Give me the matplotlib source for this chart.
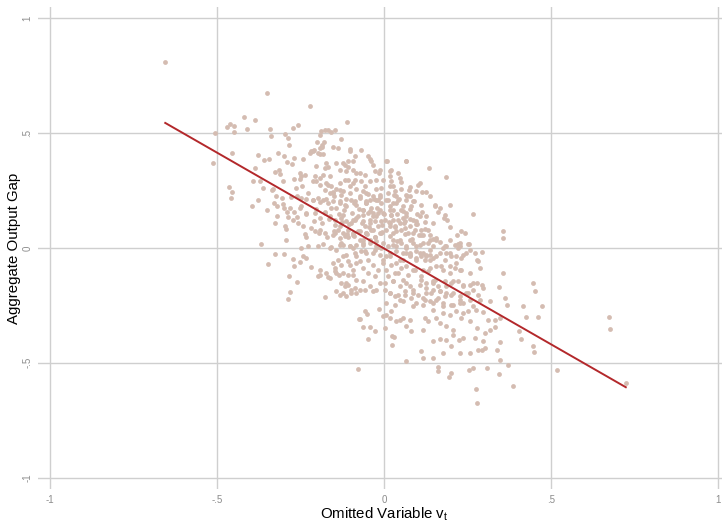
import numpy as np
import matplotlib
matplotlib.use("Agg")
import matplotlib.pyplot as plt

plt.rcParams['font.family'] = ['Liberation Sans', 'DejaVu Sans']

# omitted variable (x) and aggregate output gap (y), grouped by area of the cloud
upper_left_x = [-0.655, -0.350, -0.223, -0.110, -0.418, -0.386, -0.471, -0.460, -0.450, -0.450,
                -0.505, -0.410, -0.341, -0.338, -0.295, -0.287, -0.273, -0.258, -0.513, -0.456,
                -0.463, -0.456, -0.458, -0.396, -0.377, -0.358, -0.345, -0.385, -0.391, -0.371,
                -0.363, -0.378, -0.350, -0.368, -0.325, -0.313, -0.310, -0.317, -0.300, -0.291,
                -0.333, -0.323, -0.320, -0.325, -0.295, -0.293, -0.301, -0.293, -0.283, -0.275,
                -0.268, -0.268, -0.253, -0.303, -0.335, -0.305, -0.278, -0.261, -0.248, -0.235,
                -0.328, -0.321, -0.298, -0.281, -0.291, -0.288, -0.273, -0.261, -0.248, -0.235,
                -0.258, -0.238, -0.235, -0.346]
upper_left_y = [0.811, 0.676, 0.617, 0.547, 0.570, 0.556, 0.529, 0.540, 0.532, 0.506,
                0.503, 0.518, 0.518, 0.489, 0.496, 0.479, 0.522, 0.537, 0.370, 0.414,
                0.266, 0.242, 0.218, 0.181, 0.406, 0.384, 0.387, 0.348, 0.290, 0.293,
                0.261, 0.210, 0.164, 0.019, 0.333, 0.341, 0.322, 0.416, 0.402, 0.373,
                0.257, 0.225, 0.138, 0.111, 0.094, 0.083, 0.193, 0.036, 0.450, 0.367,
                0.392, 0.300, 0.300, 0.294, 0.251, 0.218, 0.222, 0.225, 0.220, 0.213,
                0.196, 0.184, 0.174, 0.174, 0.159, 0.135, 0.123, 0.133, 0.181, 0.149,
                0.109, 0.062, 0.050, -0.070]

left_core_x = [-0.243, -0.223, -0.213, -0.193, -0.188, -0.178, -0.168, -0.148, -0.130, -0.198,
               -0.186, -0.153, -0.138, -0.173, -0.168, -0.143, -0.118, -0.108, -0.103, -0.088,
               -0.253, -0.248, -0.238, -0.208, -0.203, -0.193, -0.168, -0.158, -0.153, -0.133,
               -0.108, -0.093, -0.083, -0.263, -0.245, -0.228, -0.213, -0.198, -0.183, -0.168,
               -0.153, -0.133, -0.113, -0.098, -0.083, -0.268, -0.253, -0.233, -0.208, -0.193,
               -0.178, -0.163, -0.148, -0.128, -0.113, -0.093, -0.078, -0.243, -0.218, -0.208,
               -0.193, -0.178, -0.153, -0.138, -0.123, -0.108, -0.093, -0.078, -0.248, -0.228,
               -0.198, -0.163, -0.133, -0.103]
left_core_y = [0.387, 0.414, 0.421, 0.493, 0.508, 0.515, 0.512, 0.515, 0.475, 0.414,
               0.442, 0.442, 0.435, 0.370, 0.355, 0.370, 0.363, 0.355, 0.421, 0.399,
               0.326, 0.312, 0.319, 0.312, 0.290, 0.305, 0.276, 0.268, 0.246, 0.254,
               0.297, 0.283, 0.326, 0.261, 0.268, 0.239, 0.210, 0.218, 0.210, 0.196,
               0.203, 0.196, 0.181, 0.210, 0.189, 0.159, 0.174, 0.152, 0.152, 0.131,
               0.152, 0.138, 0.123, 0.131, 0.116, 0.123, 0.138, 0.094, 0.087, 0.072,
               0.080, 0.065, 0.058, 0.080, 0.065, 0.050, 0.065, 0.072, 0.000, 0.007,
               0.007, 0.000, 0.014, 0.007]

top_core_x = [-0.160, -0.201, -0.181, -0.186, -0.193, -0.218, -0.211, -0.191, -0.184, -0.101,
              -0.093, -0.108, -0.123, -0.178, -0.203, 0.007, 0.067, -0.133, -0.113, -0.093,
              -0.073, -0.058, -0.028, -0.013, 0.017, 0.042, 0.047, 0.022, -0.003, -0.023,
              -0.043, -0.068, -0.088, -0.118, -0.133, -0.163, -0.183, -0.213, -0.193, -0.173,
              -0.178, -0.163, -0.143, -0.123, -0.103, -0.083, -0.063, -0.048, -0.023, -0.008,
              0.017, 0.032, 0.052, 0.077, 0.097]
top_core_y = [0.505, 0.461, 0.464, 0.447, 0.435, 0.421, 0.428, 0.411, 0.409, 0.430,
              0.380, 0.377, 0.370, 0.348, 0.358, 0.381, 0.381, 0.341, 0.334, 0.341,
              0.326, 0.319, 0.334, 0.341, 0.334, 0.326, 0.305, 0.290, 0.297, 0.297,
              0.290, 0.290, 0.297, 0.297, 0.283, 0.312, 0.319, 0.290, 0.276, 0.283,
              0.251, 0.239, 0.258, 0.247, 0.268, 0.256, 0.249, 0.236, 0.259, 0.263,
              0.271, 0.250, 0.257, 0.265, 0.248]

mid_core_x = [-0.213, -0.191, -0.173, -0.151, -0.131, -0.115, -0.091, -0.071, -0.055, -0.031,
              -0.011, 0.005, 0.029, 0.045, 0.069, 0.089, -0.203, -0.176, -0.158, -0.136,
              -0.119, -0.097, -0.076, -0.063, -0.041, -0.021, -0.001, 0.019, 0.039, 0.058,
              0.079, 0.099, -0.211, -0.186, -0.166, -0.146, -0.126, -0.106, -0.086, -0.066,
              -0.046, -0.026, -0.006, 0.014, 0.034, 0.059, 0.079, 0.099, -0.196, -0.171,
              -0.151, -0.131, -0.111, -0.091, -0.071, -0.051, -0.026, -0.006, 0.019, 0.039,
              0.064, 0.084, 0.104, -0.183, -0.158, -0.123, -0.093, -0.063, -0.018, 0.027,
              0.067]
mid_core_y = [0.207, 0.199, 0.214, 0.226, 0.203, 0.212, 0.198, 0.220, 0.205, 0.212,
              0.221, 0.207, 0.229, 0.213, 0.228, 0.206, 0.169, 0.157, 0.176, 0.150,
              0.165, 0.154, 0.169, 0.143, 0.160, 0.176, 0.150, 0.165, 0.146, 0.161,
              0.172, 0.150, 0.118, 0.107, 0.125, 0.099, 0.114, 0.103, 0.121, 0.108,
              0.092, 0.118, 0.099, 0.114, 0.092, 0.111, 0.125, 0.103, 0.067, 0.048,
              0.074, 0.042, 0.063, 0.052, 0.034, 0.061, 0.046, 0.068, 0.052, 0.031,
              0.063, 0.041, 0.056, 0.016, 0.004, 0.012, 0.002, 0.015, 0.005, 0.012,
              0.001]

upper_right_x = [-0.068, -0.048, -0.043, -0.038, -0.033, -0.015, 0.009, 0.022, 0.019, 0.052,
                 0.065, 0.135, 0.185, 0.107, 0.102, 0.115, 0.125, 0.075, 0.077, 0.067,
                 0.087, 0.057, 0.037, 0.027, 0.152, 0.167, 0.162, 0.199, 0.182, 0.190,
                 0.267, 0.115, 0.107, 0.087, 0.097, 0.197, 0.232, 0.242, 0.355, 0.357,
                 0.132, 0.117, 0.137, 0.157, 0.187, 0.177, 0.212, 0.222, 0.252, 0.227,
                 0.257, 0.294, 0.067, 0.057, 0.047, 0.027, 0.022, 0.027, 0.047, 0.067,
                 0.087, 0.107, 0.127, 0.137]
upper_right_y = [0.425, 0.399, 0.387, 0.377, 0.363, 0.326, 0.377, 0.338, 0.312, 0.286,
                 0.380, 0.347, 0.309, 0.283, 0.276, 0.246, 0.246, 0.254, 0.225, 0.210,
                 0.203, 0.181, 0.225, 0.268, 0.189, 0.174, 0.159, 0.189, 0.145, 0.123,
                 0.148, 0.159, 0.138, 0.123, 0.106, 0.090, 0.072, 0.065, 0.072, 0.044,
                 0.080, 0.058, 0.036, 0.044, 0.007, 0.000, 0.014, 0.000, 0.017, 0.022,
                 -0.007, -0.017, 0.152, 0.131, 0.109, 0.123, 0.145, 0.065, 0.036, 0.007,
                 0.022, -0.022, -0.036, -0.007]

centre_x = [-0.058, -0.053, -0.043, -0.033, -0.018, -0.013, -0.008, -0.003, 0.002, 0.007,
            -0.053, -0.063, -0.048, -0.033, -0.023, -0.043, -0.058, -0.038, -0.018, -0.008,
            -0.028, -0.053, -0.063, -0.043, -0.023, -0.003, -0.068, -0.033, -0.013, 0.012,
            0.017, 0.027, 0.037, 0.052, 0.062, 0.077, 0.092, 0.072, 0.052, 0.032,
            0.017, 0.037, 0.012, 0.017, 0.057, 0.077, 0.097, 0.117, 0.147, 0.167,
            0.197, 0.237, 0.272, 0.180, 0.122, 0.124, 0.220, 0.112, 0.147, 0.167,
            0.199, 0.255, 0.182, 0.222, 0.227]
centre_y = [0.268, 0.239, 0.210, 0.225, 0.210, 0.167, 0.196, 0.152, 0.123, 0.080,
            0.196, 0.167, 0.152, 0.152, 0.138, 0.123, 0.094, 0.080, 0.094, 0.065,
            0.050, 0.065, 0.036, 0.022, 0.007, 0.022, -0.015, -0.022, -0.029, 0.210,
            0.181, 0.167, 0.196, 0.167, 0.116, 0.094, 0.080, 0.065, 0.080, 0.094,
            0.109, 0.007, 0.007, -0.022, -0.022, -0.022, 0.007, 0.022, 0.007, -0.022,
            -0.022, -0.029, -0.022, 0.131, 0.112, 0.083, 0.055, 0.055, 0.039, 0.026,
            0.033, 0.019, 0.010, 0.019, 0.007]

# thickest part of the cloud, just above and below the origin
dense_upper_x = [-0.153, -0.128, -0.118, -0.123, -0.143, -0.103, -0.088, -0.073, -0.053, -0.063,
                 -0.038, -0.023, -0.013, -0.033, -0.018, -0.008, -0.043, -0.063, -0.083, -0.098,
                 -0.108, -0.133, -0.148, -0.118, -0.093, -0.073, -0.053, -0.033, -0.013, -0.023,
                 -0.043, -0.063, -0.083, -0.103, -0.128, -0.143, -0.113, -0.088, -0.058, -0.028,
                 -0.008, 0.012, 0.027, 0.042, 0.067, 0.082, 0.112, 0.137, 0.152, 0.022,
                 0.042, 0.067, 0.097, 0.127, 0.147, 0.017, 0.037, 0.062, 0.087, 0.112,
                 0.137, 0.027, 0.052, 0.077, 0.107, 0.132, 0.157, 0.037, 0.067, 0.097,
                 0.127]
dense_upper_y = [0.239, 0.232, 0.189, 0.145, 0.174, 0.239, 0.203, 0.225, 0.196, 0.167,
                 0.174, 0.210, 0.232, 0.138, 0.152, 0.116, 0.109, 0.116, 0.131, 0.109,
                 0.080, 0.094, 0.065, 0.051, 0.058, 0.073, 0.065, 0.080, 0.065, 0.029,
                 0.036, 0.022, 0.014, 0.007, 0.022, -0.007, -0.029, -0.022, -0.015, -0.007,
                 0.000, 0.239, 0.196, 0.210, 0.232, 0.181, 0.189, 0.225, 0.181, 0.145,
                 0.123, 0.138, 0.116, 0.138, 0.109, 0.094, 0.073, 0.087, 0.065, 0.080,
                 0.058, 0.036, 0.022, 0.036, 0.014, 0.022, 0.036, -0.015, -0.022, -0.015,
                 -0.029]

dense_lower_x = [-0.003, 0.017, 0.037, 0.057, 0.077, 0.097, 0.117, 0.137, 0.157, 0.187,
                 0.217, 0.247, 0.277, 0.007, 0.032, 0.052, 0.072, 0.092, 0.112, 0.132,
                 0.152, 0.172, 0.197, 0.227, 0.257, 0.287, 0.002, 0.027, 0.047, 0.067,
                 0.087, 0.107, 0.127, 0.147, 0.167, 0.187, 0.207, 0.237, 0.267, 0.297,
                 0.017, 0.042, 0.062, 0.082, 0.102, 0.122, 0.142, 0.162, 0.182, 0.202,
                 0.227, 0.252, 0.282, 0.007, 0.032, 0.057, 0.087, 0.117, 0.147, 0.177,
                 0.207, 0.237, 0.267]
dense_lower_y = [-0.051, -0.036, -0.065, -0.051, -0.029, -0.044, -0.022, -0.051, -0.036, -0.022,
                 -0.036, -0.022, -0.051, -0.094, -0.109, -0.087, -0.116, -0.094, -0.124, -0.102,
                 -0.138, -0.080, -0.080, -0.094, -0.109, -0.087, -0.153, -0.145, -0.167, -0.153,
                 -0.182, -0.160, -0.174, -0.153, -0.189, -0.167, -0.145, -0.160, -0.153, -0.174,
                 -0.196, -0.203, -0.189, -0.218, -0.203, -0.225, -0.196, -0.218, -0.211, -0.203,
                 -0.225, -0.196, -0.203, -0.240, -0.247, -0.232, -0.254, -0.247, -0.240, -0.254,
                 -0.247, -0.240, -0.254]

lower_left_x = [-0.285, -0.268, -0.261, -0.280, -0.287, -0.178, -0.218, -0.191, -0.173, -0.168,
                -0.198, -0.153, -0.148, -0.143, -0.135, -0.128, -0.118, -0.108, -0.098, -0.088,
                -0.133, -0.113, -0.098, -0.083, -0.123, -0.108, -0.093, -0.083, -0.103, -0.076,
                -0.078, -0.325, -0.300, -0.273, -0.253, -0.243, -0.235, -0.193, -0.163, -0.146,
                -0.138, -0.128, -0.123, -0.108, -0.093, -0.113, -0.083, -0.073, -0.123, -0.143,
                -0.058, -0.063, -0.043, -0.033, -0.023, -0.013, -0.028, -0.048, -0.063, -0.073,
                -0.083, -0.048, -0.033, -0.018, -0.003, 0.007, -0.053,
                -0.058, -0.051, -0.073, -0.063, -0.041, -0.048, -0.028, -0.015, -0.003, 0.002]
lower_left_y = [-0.124, -0.080, -0.148, -0.193, -0.221, -0.213, -0.083, -0.098, -0.109, -0.126,
                -0.124, -0.065, -0.087, -0.109, -0.116, -0.152, -0.167, -0.160, -0.182, -0.174,
                -0.203, -0.211, -0.196, -0.196, -0.109, -0.116, -0.094, -0.065, -0.073, -0.309,
                -0.527, -0.025, -0.025, -0.047, -0.063, -0.034, -0.044, -0.116, -0.131, -0.101,
                -0.051, -0.073, -0.036, -0.058, -0.116, -0.152, -0.138, -0.182, -0.196, -0.189,
                -0.182, -0.145, -0.167, -0.189, -0.182, -0.152, -0.124, -0.109, -0.087, -0.058,
                -0.036, -0.051, -0.073, -0.094, -0.065, -0.036, -0.022,
                -0.276, -0.286, -0.308, -0.346, -0.344, -0.396, -0.363, -0.264, -0.298, -0.348]

lower_mid_x = [0.007, 0.019, 0.022, 0.037, 0.047, 0.057, 0.077, 0.067, 0.082, 0.025,
               0.031, 0.025, 0.065, 0.032, 0.017, 0.002, 0.047, 0.062, 0.012, 0.027,
               0.042, 0.057, 0.077, 0.087, 0.097, 0.022, 0.047, 0.067, 0.087, 0.077,
               0.097]
lower_mid_y = [-0.290, -0.305, -0.276, -0.320, -0.312, -0.305, -0.312, -0.341, -0.363, -0.382,
               -0.388, -0.424, -0.491, -0.211, -0.196, -0.182, -0.225, -0.203, -0.124, -0.145,
               -0.109, -0.138, -0.167, -0.196, -0.239, -0.073, -0.051, -0.080, -0.094, -0.036,
               -0.051]

lower_right_x = [0.112, 0.122, 0.137, 0.147, 0.182, 0.202, 0.217, 0.232, 0.282, 0.232,
                 0.212, 0.197, 0.177, 0.157, 0.137, 0.117, 0.112, 0.127, 0.147, 0.162,
                 0.182, 0.202, 0.222, 0.237, 0.257, 0.277, 0.292, 0.267, 0.247, 0.227,
                 0.207, 0.187, 0.167, 0.147, 0.127, 0.117, 0.137, 0.157, 0.177, 0.202,
                 0.227, 0.257, 0.287, 0.317, 0.357, 0.344, 0.362, 0.369, 0.417, 0.425,
                 0.405, 0.409, 0.347, 0.332, 0.312, 0.295, 0.275, 0.252, 0.237, 0.217,
                 0.197, 0.177, 0.157, 0.147, 0.122, 0.132, 0.167, 0.187, 0.207, 0.232,
                 0.257, 0.277, 0.302, 0.317, 0.332, 0.272, 0.297, 0.302, 0.292, 0.237,
                 0.224, 0.207, 0.187, 0.167, 0.147, 0.117, 0.112, 0.117, 0.147, 0.177,
                 0.202, 0.227, 0.257, 0.282, 0.337, 0.347, 0.347, 0.370, 0.387, 0.345,
                 0.307, 0.267, 0.255, 0.202, 0.195, 0.162, 0.162, 0.275, 0.279,
                 0.447, 0.452, 0.474, 0.462, 0.447, 0.449, 0.517, 0.674, 0.677, 0.724]
lower_right_y = [-0.036, -0.051, -0.029, -0.044, -0.051, -0.036, -0.065, -0.044, -0.058, -0.094,
                 -0.087, -0.109, -0.094, -0.080, -0.087, -0.094, -0.138, -0.152, -0.145, -0.167,
                 -0.145, -0.152, -0.145, -0.167, -0.160, -0.152, -0.160, -0.182, -0.196, -0.211,
                 -0.196, -0.196, -0.189, -0.182, -0.196, -0.218, -0.232, -0.225, -0.239, -0.247,
                 -0.239, -0.225, -0.225, -0.232, -0.109, -0.171, -0.218, -0.247, -0.251, -0.300,
                 -0.363, -0.396, -0.305, -0.312, -0.315, -0.280, -0.272, -0.276, -0.283, -0.276,
                 -0.290, -0.283, -0.305, -0.269, -0.305, -0.320, -0.327, -0.341, -0.356, -0.305,
                 -0.320, -0.348, -0.370, -0.359, -0.344, -0.392, -0.407, -0.435, -0.443, -0.392,
                 -0.399, -0.377, -0.402, -0.396, -0.405, -0.356, -0.450, -0.479, -0.479, -0.457,
                 -0.428, -0.457, -0.457, -0.443, -0.443, -0.411, -0.486, -0.508, -0.600, -0.549,
                 -0.523, -0.523, -0.533, -0.544, -0.562, -0.518, -0.537, -0.614, -0.675,
                 -0.152, -0.189, -0.254, -0.302, -0.428, -0.455, -0.533, -0.300, -0.351, -0.588]

# linear fit of output gap on v_t
fit_intercept = -0.002
fit_slope = -0.835

ticks = [-1, -0.5, 0, 0.5, 1]
tick_labels = ["-1", "-.5", "0", ".5", "1"]

v = np.concatenate([upper_left_x, left_core_x, top_core_x, mid_core_x, upper_right_x,
                    centre_x, dense_upper_x, dense_lower_x, lower_left_x, lower_mid_x,
                    lower_right_x])
gap = np.concatenate([upper_left_y, left_core_y, top_core_y, mid_core_y, upper_right_y,
                      centre_y, dense_upper_y, dense_lower_y, lower_left_y, lower_mid_y,
                      lower_right_y])

fig = plt.figure(figsize=(7.22, 5.25), dpi=100)
ax = fig.add_axes([38 / 722, 36 / 525, 692 / 722, 482 / 525])
ax.set_xlim(-1.036, 1.036)
ax.set_ylim(-1.05, 1.05)

ax.set_xticks(ticks, tick_labels)
ax.set_yticks(ticks, tick_labels)
plt.setp(ax.get_yticklabels(), rotation=90, va="center")
ax.tick_params(length=0, labelsize=7, colors="#8c8c8c", pad=4)
ax.grid(color="#cfcfcf", linewidth=1.0)
ax.set_axisbelow(True)
for s in ax.spines.values():
    s.set_visible(False)

ax.scatter(v, gap, s=12, color="#d4bcb1", linewidths=0, zorder=2)

xs = np.array([v.min(), v.max()])
ax.plot(xs, fit_intercept + fit_slope * xs, color="#b3282b", linewidth=1.4, zorder=3)

fig.text(14 / 722, 1 - 248 / 525, "Aggregate Output Gap", rotation=90,
         ha="center", va="center", fontsize=10.8)
fig.text(384 / 722, 1 - 514 / 525, r"Omitted Variable $\mathregular{v_t}$",
         ha="center", va="center", fontsize=10.8)

fig.savefig("out.png", dpi=100)
